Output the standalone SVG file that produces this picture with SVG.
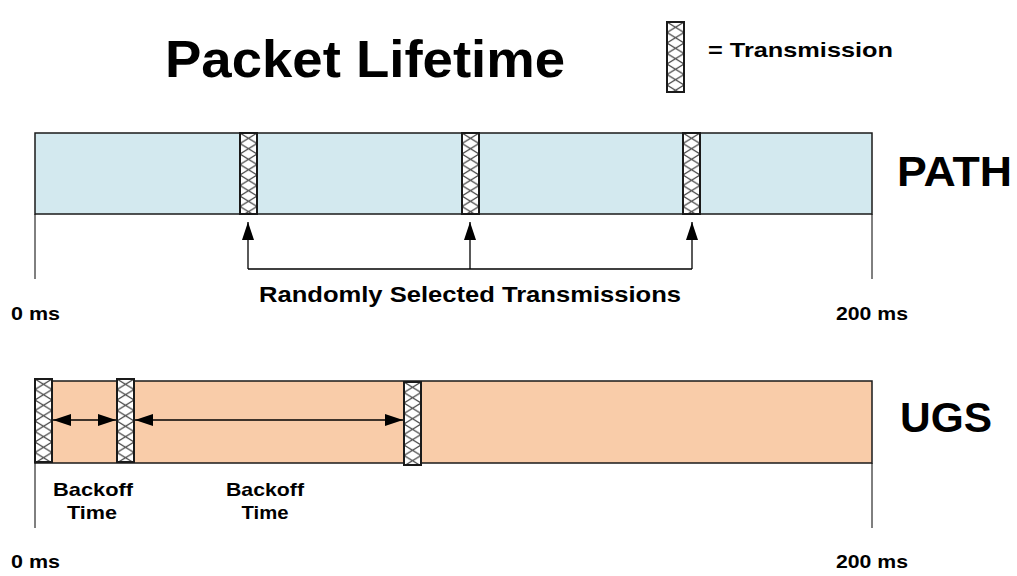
<svg xmlns="http://www.w3.org/2000/svg" width="1017" height="576" viewBox="0 0 1017 576">
<style>
text{font-family:"Liberation Sans",Arial,sans-serif;font-weight:bold;fill:#000}
.bar{stroke:#1a1a1a;stroke-width:1.5}
.tick{stroke:#000;stroke-width:1;fill:none}
.tx{fill:url(#hatch);stroke:#1a1a1a;stroke-width:2}
.con{stroke:#000;stroke-width:1.3;fill:none}
</style>
<defs>
<pattern id="hatch" patternUnits="userSpaceOnUse" x="0" y="0" width="17" height="10.5">
<rect width="17" height="10.5" fill="#fff"/>
<path d="M0,0 L17,10.5 M17,0 L0,10.5" stroke="#444" stroke-width="1.2"/>
</pattern>
<marker id="ah" viewBox="0 0 18 12" refX="18" refY="6" markerWidth="18" markerHeight="12" markerUnits="userSpaceOnUse" orient="auto-start-reverse">
<path d="M0,0 L18,6 L0,12 z" fill="#000"/>
</marker>
</defs>

<g id="title"><text x="165" y="77" font-size="52" textLength="400" lengthAdjust="spacingAndGlyphs">Packet Lifetime</text></g>

<g id="legend">
<g transform="translate(667,22)"><rect class="tx" width="17" height="70"/></g>
<text x="708" y="57" font-size="21" textLength="185" lengthAdjust="spacingAndGlyphs">= Transmission</text>
</g>

<g id="path-timeline">
<rect class="bar" x="35" y="133" width="837" height="81" fill="#d3e9ef"/>
<path class="tick" d="M35,214 V279 M872,214 V279"/>
<text x="897" y="186" font-size="42" textLength="115" lengthAdjust="spacingAndGlyphs">PATH</text>
<text x="11" y="320" font-size="19" textLength="49" lengthAdjust="spacingAndGlyphs">0 ms</text>
<text x="836" y="320" font-size="19" textLength="72" lengthAdjust="spacingAndGlyphs">200 ms</text>
</g>
<g id="path-tx1" transform="translate(240,133)"><rect class="tx" width="17" height="81"/></g>
<g id="path-tx2" transform="translate(462,133)"><rect class="tx" width="17" height="81"/></g>
<g id="path-tx3" transform="translate(683,133)"><rect class="tx" width="17" height="81"/></g>

<g id="ugs-timeline">
<rect class="bar" x="35" y="381" width="837" height="82" fill="#f9cca9"/>
<path class="tick" d="M35,463 V528 M872,463 V528"/>
<text x="900" y="432" font-size="42" textLength="92" lengthAdjust="spacingAndGlyphs">UGS</text>
<text x="11" y="568" font-size="19" textLength="49" lengthAdjust="spacingAndGlyphs">0 ms</text>
<text x="836" y="568" font-size="19" textLength="72" lengthAdjust="spacingAndGlyphs">200 ms</text>
</g>
<g id="ugs-tx1" transform="translate(35,379)"><rect class="tx" width="17" height="83"/></g>
<g id="ugs-tx2" transform="translate(117,379)"><rect class="tx" width="17" height="83"/></g>
<g id="ugs-tx3" transform="translate(404,382)"><rect class="tx" width="17" height="83"/></g>

<g id="connectors">
<path class="con" d="M248,269 H692"/>
<path class="con" d="M248,269 V222" marker-end="url(#ah)"/>
<path class="con" d="M470,269 V222" marker-end="url(#ah)"/>
<path class="con" d="M692,269 V222" marker-end="url(#ah)"/>
<path class="con" d="M53,420 H116" marker-start="url(#ah)" marker-end="url(#ah)"/>
<path class="con" d="M135,420 H403" marker-start="url(#ah)" marker-end="url(#ah)"/>
</g>

<g id="labels">
<text x="470" y="302" font-size="22" text-anchor="middle" textLength="422" lengthAdjust="spacingAndGlyphs">Randomly Selected Transmissions</text>
<text x="93" y="496" font-size="19" text-anchor="middle" textLength="80" lengthAdjust="spacingAndGlyphs">Backoff</text>
<text x="92" y="519" font-size="19" text-anchor="middle" textLength="50" lengthAdjust="spacingAndGlyphs">Time</text>
<text x="265" y="496" font-size="19" text-anchor="middle" textLength="78" lengthAdjust="spacingAndGlyphs">Backoff</text>
<text x="265" y="519" font-size="19" text-anchor="middle" textLength="47" lengthAdjust="spacingAndGlyphs">Time</text>
</g>
</svg>
